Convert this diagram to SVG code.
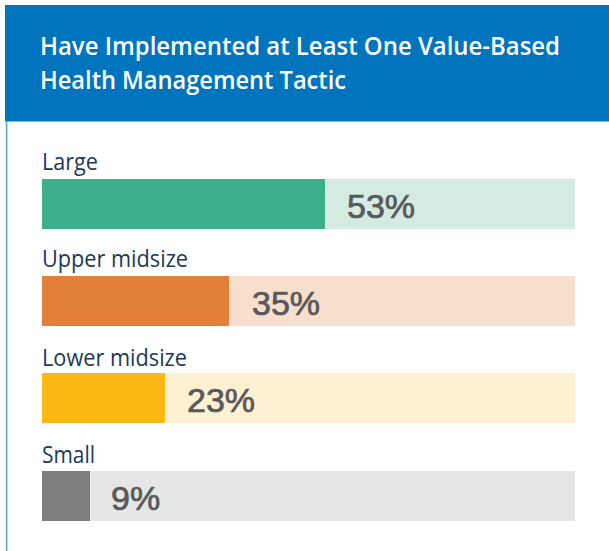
<svg xmlns="http://www.w3.org/2000/svg" width="609" height="551" viewBox="0 0 609 551">
<style>
.title{font-family:"Open Sans","Liberation Sans",sans-serif;font-size:24.5px;font-weight:600;fill:#ffffff}
.lbl{font-family:"Open Sans","Liberation Sans",sans-serif;font-size:23px;fill:#1B3A57}
.pct{font-family:"Liberation Sans","Open Sans",sans-serif;font-size:34px;fill:#58595B;stroke:#58595B;stroke-width:0.7}
</style>
<rect width="609" height="551" fill="#ffffff"/>
<g id="header">
<rect x="5" y="5" width="604" height="116.5" fill="#0074BC"/>
<text class="title" x="40" y="55" textLength="520" lengthAdjust="spacingAndGlyphs">Have Implemented at Least One Value-Based</text>
<text class="title" x="40" y="89" textLength="306" lengthAdjust="spacingAndGlyphs">Health Management Tactic</text>
</g>
<line x1="6.6" y1="121" x2="6.6" y2="551" stroke="#5BA4D6" stroke-width="1.6"/>
<g id="large">
<text class="lbl" x="42" y="170" textLength="56" lengthAdjust="spacingAndGlyphs">Large</text>
<rect x="42" y="179" width="533" height="50" fill="#D4EBE1"/>
<rect x="42" y="179" width="283" height="50" fill="#3EAF8C"/>
<text class="pct" x="347" y="218">53%</text>
</g>
<g id="upper">
<text class="lbl" x="42" y="267" textLength="146" lengthAdjust="spacingAndGlyphs">Upper midsize</text>
<rect x="42" y="276" width="533" height="50" fill="#F8DFCD"/>
<rect x="42" y="276" width="187" height="50" fill="#E27F3B"/>
<text class="pct" x="252" y="315">35%</text>
</g>
<g id="lower">
<text class="lbl" x="42" y="366" textLength="145" lengthAdjust="spacingAndGlyphs">Lower midsize</text>
<rect x="42" y="373" width="533" height="50" fill="#FEF0D2"/>
<rect x="42" y="373" width="123" height="50" fill="#FDB813"/>
<text class="pct" x="187" y="412">23%</text>
</g>
<g id="small">
<text class="lbl" x="42" y="463" textLength="53" lengthAdjust="spacingAndGlyphs">Small</text>
<rect x="42" y="471" width="533" height="50" fill="#E5E7E6"/>
<rect x="42" y="471" width="48" height="50" fill="#7C7E7D"/>
<text class="pct" x="111" y="510">9%</text>
</g>
</svg>
